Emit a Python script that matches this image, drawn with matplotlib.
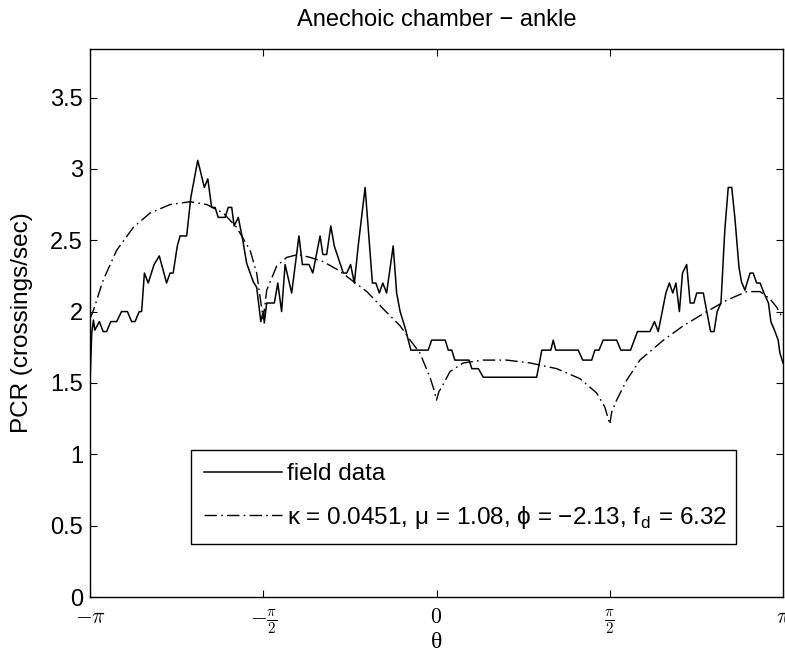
import numpy as np
import matplotlib
matplotlib.use("Agg")
import matplotlib.pyplot as plt

# ---- data (theta in units of pi) ----
field_t = [-1.000, -0.995, -0.990, -0.986, -0.973, -0.962, -0.952, -0.940, -0.923, -0.909,
           -0.892, -0.880, -0.870, -0.858, -0.851, -0.843, -0.832, -0.815, -0.800, -0.779,
           -0.769, -0.760, -0.748, -0.740, -0.721, -0.709, -0.689, -0.670, -0.660, -0.649,
           -0.639, -0.630, -0.610, -0.601, -0.591, -0.584, -0.572, -0.559, -0.548, -0.529,
           -0.519, -0.507, -0.500, -0.497, -0.490, -0.468, -0.458, -0.447, -0.437, -0.418,
           -0.397, -0.387, -0.368, -0.357, -0.336, -0.328, -0.317, -0.305, -0.295, -0.269,
           -0.259, -0.248, -0.237, -0.226, -0.206, -0.185, -0.175, -0.165, -0.155, -0.144,
           -0.125, -0.115, -0.105, -0.091, -0.074, -0.024, -0.014, 0.025, 0.034, 0.044,
           0.053, 0.094, 0.102, 0.121, 0.135, 0.289, 0.304, 0.330, 0.337, 0.344,
           0.409, 0.422, 0.448, 0.457, 0.469, 0.481, 0.520, 0.532, 0.560, 0.580,
           0.616, 0.629, 0.640, 0.662, 0.672, 0.682, 0.691, 0.701, 0.710, 0.722,
           0.732, 0.743, 0.751, 0.770, 0.780, 0.791, 0.801, 0.810, 0.821, 0.832,
           0.842, 0.852, 0.861, 0.873, 0.880, 0.890, 0.896, 0.905, 0.914, 0.924,
           0.934, 0.945, 0.958, 0.965, 0.977, 0.986, 0.991, 1.000]
field_pcr = [1.50, 1.85, 1.94, 1.87, 1.93, 1.86, 1.86, 1.93, 1.93, 2.00,
             2.00, 1.93, 1.93, 2.00, 2.00, 2.27, 2.20, 2.33, 2.39, 2.20,
             2.27, 2.27, 2.46, 2.53, 2.53, 2.80, 3.06, 2.87, 2.93, 2.73,
             2.73, 2.66, 2.66, 2.73, 2.73, 2.60, 2.66, 2.50, 2.34, 2.21,
             2.17, 1.93, 2.00, 1.92, 2.06, 2.06, 2.20, 2.00, 2.33, 2.13,
             2.53, 2.33, 2.33, 2.27, 2.53, 2.40, 2.40, 2.60, 2.46, 2.27,
             2.27, 2.33, 2.20, 2.46, 2.87, 2.20, 2.20, 2.13, 2.20, 2.13,
             2.46, 2.13, 2.00, 1.89, 1.73, 1.73, 1.80, 1.80, 1.73, 1.73,
             1.66, 1.66, 1.60, 1.60, 1.54, 1.54, 1.73, 1.73, 1.80, 1.73,
             1.73, 1.66, 1.66, 1.73, 1.73, 1.80, 1.80, 1.73, 1.73, 1.86,
             1.86, 1.93, 1.86, 2.13, 2.20, 2.13, 2.20, 2.00, 2.27, 2.33,
             2.06, 2.06, 2.13, 2.13, 2.00, 1.86, 1.86, 2.00, 2.06, 2.57,
             2.87, 2.87, 2.66, 2.31, 2.21, 2.15, 2.20, 2.27, 2.27, 2.20,
             2.20, 2.13, 2.06, 1.93, 1.86, 1.80, 1.71, 1.64]

model_t = [-1.000, -0.990, -0.962, -0.923, -0.875, -0.827, -0.769, -0.711, -0.663, -0.615,
           -0.577, -0.538, -0.519, -0.509, -0.500, -0.495, -0.490, -0.461, -0.432, -0.399,
           -0.365, -0.327, -0.283, -0.201, -0.154, -0.105, -0.076, -0.048, -0.019, -0.007,
           0.000, 0.007, 0.015, 0.039, 0.077, 0.135, 0.203, 0.270, 0.347, 0.414,
           0.462, 0.486, 0.500, 0.506, 0.520, 0.549, 0.587, 0.655, 0.712, 0.780,
           0.838, 0.895, 0.934, 0.962, 0.982, 1.000]
model_pcr = [1.95, 2.01, 2.22, 2.43, 2.59, 2.69, 2.75, 2.77, 2.75, 2.69,
             2.59, 2.43, 2.27, 2.10, 1.95, 2.05, 2.15, 2.32, 2.38, 2.40,
             2.38, 2.35, 2.29, 2.14, 2.02, 1.90, 1.80, 1.71, 1.54, 1.45,
             1.38, 1.44, 1.47, 1.58, 1.64, 1.66, 1.66, 1.64, 1.60, 1.53,
             1.43, 1.33, 1.21, 1.30, 1.38, 1.52, 1.66, 1.80, 1.90, 2.00,
             2.08, 2.14, 2.14, 2.09, 2.03, 1.95]

xtick_vals = [-1.0, -0.5, 0.0, 0.5, 1.0]
xtick_labels = [r'$-\pi$', r'$-\frac{\pi}{2}$', r'$0$', r'$\frac{\pi}{2}$', r'$\pi$']
ytick_vals = [0, 0.5, 1, 1.5, 2, 2.5, 3, 3.5]
ytick_labels = ['0', '0.5', '1', '1.5', '2', '2.5', '3', '3.5']

title = 'Anechoic chamber \u2212 ankle'
xlabel = '\u03b8'
ylabel = 'PCR (crossings/sec)'
legend_labels = ['field data',
                 '\u03ba = 0.0451, \u03bc = 1.08, \u03d5 = \u22122.13, f$_\\mathregular{d}$ = 6.32']

sans = ['Liberation Sans', 'DejaVu Sans']
plt.rcParams['font.family'] = sans
plt.rcParams['mathtext.fontset'] = 'cm'

fig = plt.figure(figsize=(7.85, 6.54), dpi=100)
ax = fig.add_axes([90/785, 57/654, 693/785, 548/654])

ax.plot(np.array(field_t) * np.pi, field_pcr, color='black', lw=1.1, label=legend_labels[0])
ax.plot(np.array(model_t) * np.pi, model_pcr, color='black', lw=1.0,
        dashes=(9, 3, 1.2, 3), label=legend_labels[1])

ax.set_xlim(-np.pi, np.pi)
ax.set_ylim(0, 3.84)
ax.set_xticks(np.array(xtick_vals) * np.pi)
ax.set_xticklabels(xtick_labels, fontsize=15.5)
ax.set_yticks(ytick_vals)
ax.set_yticklabels(ytick_labels, fontsize=17)
ax.tick_params(direction='in', length=5, width=0.8, top=True, right=True)
ax.tick_params(axis='x', pad=7)
ax.tick_params(axis='y', pad=5)
for s in ax.spines.values():
    s.set_linewidth(1.0)

ax.text(0.5, 1 + (49 - 20) / 548, title, transform=ax.transAxes, ha='center', va='center',
        fontsize=17)
ax.set_xlabel(xlabel, fontsize=17, family=['Liberation Serif', 'DejaVu Serif'])
ax.xaxis.set_label_coords(0.5, (597 - 642) / 548)
ax.xaxis.label.set_va('center')
ax.set_ylabel(ylabel, fontsize=17.5)
ax.yaxis.set_label_coords((22 - 90) / 693, 0.5)
ax.yaxis.label.set_va('center')

leg = ax.legend(loc='lower left', bbox_to_anchor=(0.1457, 0.0967, 0.7864, 0.168),
                mode='expand', fancybox=False, edgecolor='black', framealpha=1,
                fontsize=17.5, handlelength=3.2, handletextpad=0.2, borderpad=0.55,
                labelspacing=0.75, borderaxespad=0)
leg.get_frame().set_linewidth(1.0)

fig.savefig('out.png', dpi=100)
